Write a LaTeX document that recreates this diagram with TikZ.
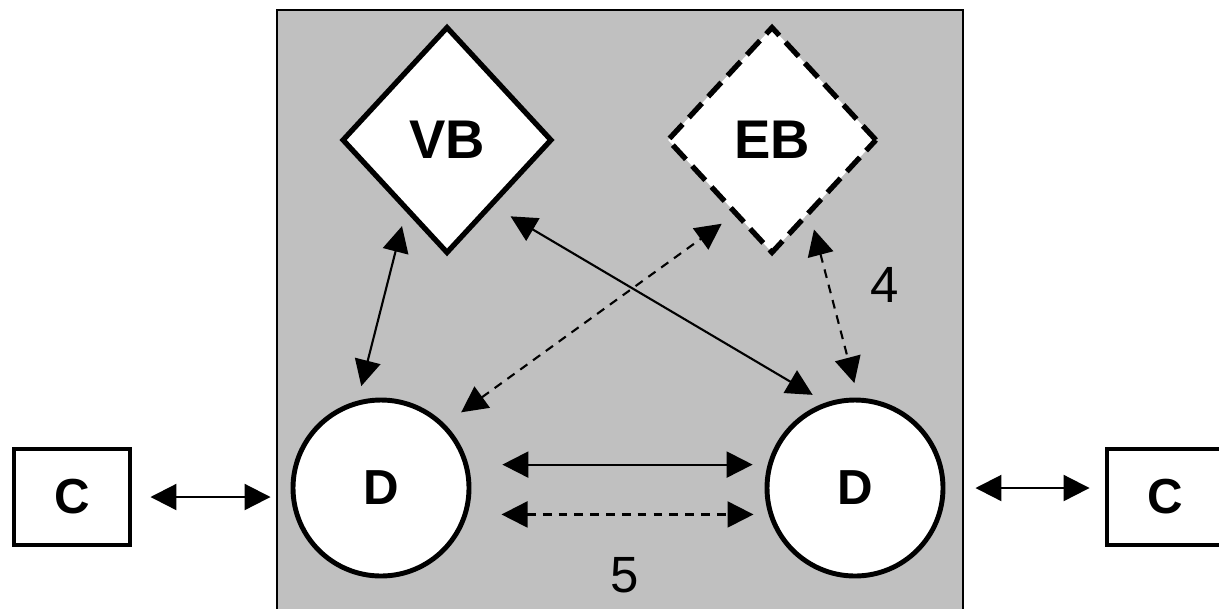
\documentclass[tikz,border=0pt]{standalone}
\usepackage{fontspec}
\setmainfont{Liberation Sans}
\usetikzlibrary{shapes.geometric, arrows.meta}

\definecolor{boxgray}{RGB}{192,192,192}

\tikzset{
  bnode/.style={diamond, draw, line width=1.5pt, fill=white, inner sep=0pt,
    minimum width=2.1cm, minimum height=2.27cm, font=\fontsize{15.5}{17}\selectfont\bfseries},
  dnode/.style={circle, draw, line width=1.4pt, fill=white, inner sep=0pt,
    minimum size=1.76cm, font=\fontsize{14}{16}\selectfont\bfseries},
  cnode/.style={rectangle, draw, line width=1.4pt, fill=white,
    minimum width=1.16cm, minimum height=0.96cm, font=\fontsize{14}{16}\selectfont\bfseries},
  link/.style={{Triangle[length=0.26cm,width=0.26cm]}-{Triangle[length=0.26cm,width=0.26cm]},
    line width=0.6pt, shorten <=0.15cm, shorten >=0.15cm},
  dlink/.style={link, dash pattern=on 2.5pt off 2pt},
  num/.style={font=\fontsize{14.5}{16}\selectfont},
}

\begin{document}
\begin{tikzpicture}
    \useasboundingbox (0,0) rectangle (12.19,6.08);

    % Background area
    \draw[line width=0.5pt, fill=boxgray] (2.77,-0.1) rectangle (9.63,5.98);

    % Nodes
    \node[bnode] (vb) at (4.47,4.68) {VB};
    \node[bnode, dash pattern=on 5.5pt off 2.6pt] (eb) at (7.72,4.68) {EB};
    \node[dnode] (dl) at (3.81,1.20) {D};
    \node[dnode] (dr) at (8.55,1.20) {D};
    \node[cnode] (cl) at (0.72,1.11) {C};
    \node[cnode] (cr) at (11.65,1.11) {C};

    \node[num] (n4) at (8.85,3.23) {4};
    \node[num] (n5) at (6.25,0.33) {5};

    % Edges
    \draw[link] (dl.105) -- (vb.240);
    \draw[link, shorten <=0.2cm] (vb.305) -- (dr.109);
    \draw[dlink, shorten <=0.2cm] (dl.45) -- (eb.243);
    \draw[dlink] (eb.297) -- (dr.88);
    \draw[link, shorten <=0.34cm] (dl.15) -- (dr.165);
    \draw[dlink, shorten <=0.34cm] (dl.-17) -- (dr.197);
    \draw[link, shorten <=0.18cm, shorten >=0.2cm] (cl.east) -- (cl.east -| dl.west);
    \draw[link, shorten <=0.3cm] (dr.east) -- (dr.east -| cr.west);
\end{tikzpicture}
\end{document}
